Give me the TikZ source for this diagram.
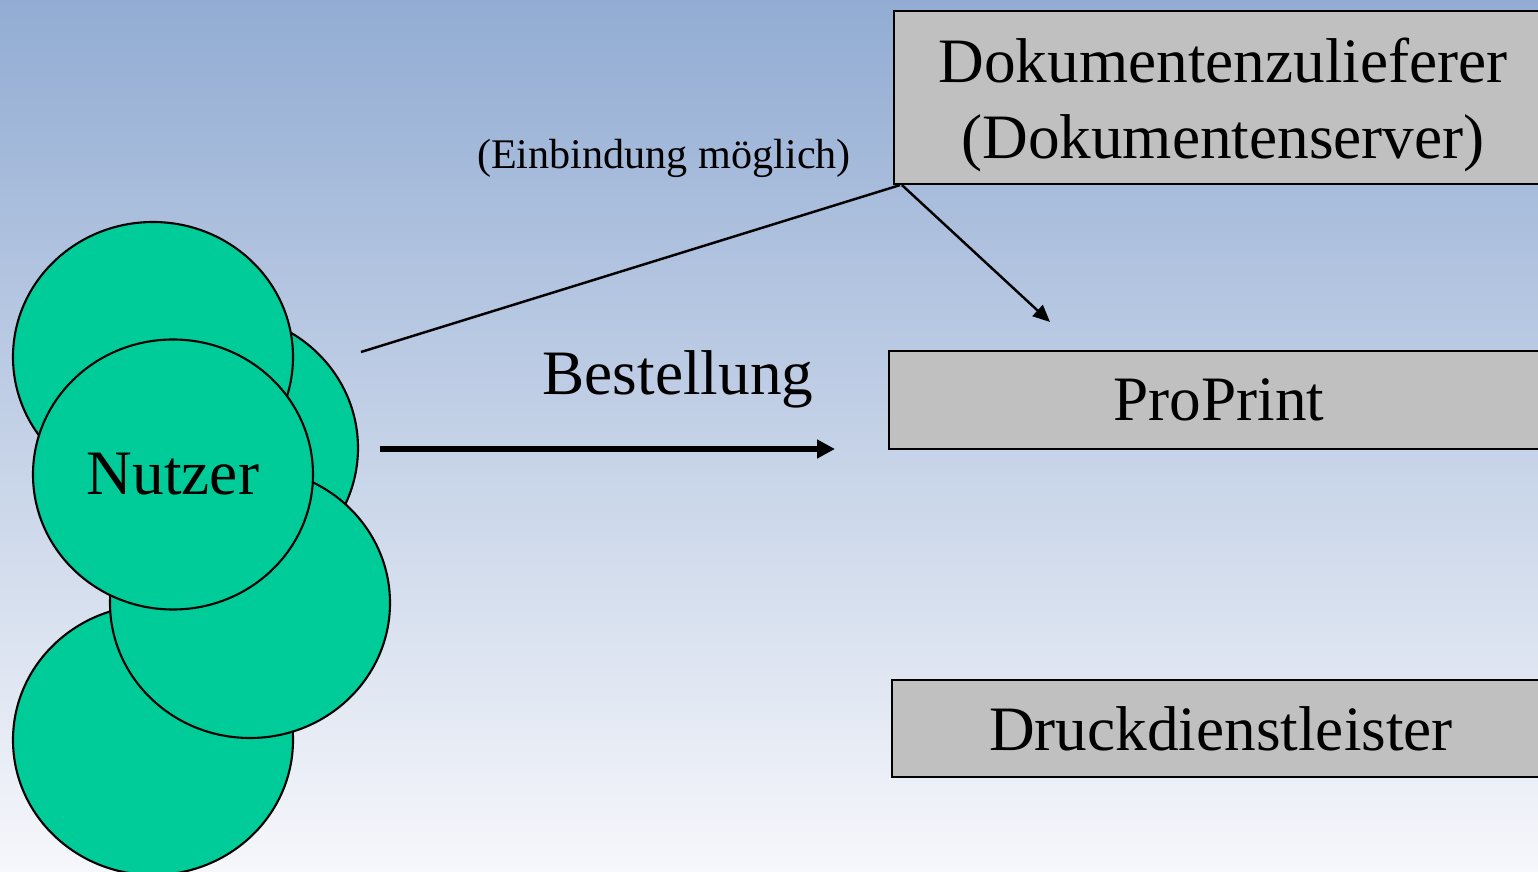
\documentclass[tikz,border=0pt]{standalone}
\usepackage{fontspec}
\setmainfont{Liberation Serif}
\usetikzlibrary{arrows.meta,shapes.geometric}
\definecolor{nutzergruen}{RGB}{0,204,153}
\definecolor{kastengrau}{RGB}{192,192,192}
\definecolor{himmeloben}{RGB}{146,172,211}
\definecolor{himmelmitte}{RGB}{203,213,231}
\definecolor{himmelunten}{RGB}{246,247,251}
\tikzset{
	kreis/.style={ellipse,draw=black,line width=0.6pt,fill=nutzergruen,minimum width=2.8cm,minimum height=2.7cm,inner sep=0pt},
	kasten/.style={rectangle,draw=black,line width=0.6pt,fill=kastengrau,anchor=north west,inner sep=0pt,font=\fontsize{18}{21.6}\selectfont},
	linie/.style={line width=0.7pt},
	pfeil/.style={line width=0.7pt,-{Triangle[length=0.17cm,width=0.15cm]}},
	dickpfeil/.style={line width=1.5pt,-{Triangle[length=0.18cm,width=0.18cm]}}
}
\begin{document}
\begin{tikzpicture}[x=1cm,y=-1cm]
	\useasboundingbox (0,0) rectangle (15.38,8.72);
	\clip (0,0) rectangle (15.38,8.72);
	\shade[top color=himmeloben,middle color=himmelmitte,bottom color=himmelunten] (0,0) rectangle (15.38,8.72);
		% Nutzer
		\node[kreis] (k2) at (2.18,4.48) {};
		\node[kreis] (k1) at (1.53,3.57) {};
		\node[kreis] (k3) at (1.53,7.40) {};
		\node[kreis] (k4) at (2.50,6.03) {};
		\node[kreis,font=\fontsize{18}{21.6}\selectfont] (nutzer) at (1.73,4.745) {Nutzer};
		% Kaesten
		\node[kasten,minimum width=6.58cm,minimum height=1.73cm] (doku) at (8.93,0.10) {};
		\node[font=\fontsize{18}{21.6}\selectfont,align=center] (dokutext) at ([yshift=-0.07cm]doku.center) {Dokumentenzulieferer\\(Dokumentenserver)};
		\node[kasten,minimum width=6.60cm,minimum height=0.98cm] (proprint) at (8.88,3.50) {ProPrint};
		\node[kasten,minimum width=6.58cm,minimum height=0.97cm] (druck) at (8.91,6.79) {Druckdienstleister};
	\coordinate (linienstart) at (3.61,3.52);
	\coordinate (pfeilziel) at (10.50,3.22);
	\coordinate (bestellstart) at (3.80,4.49);
	\coordinate (bestellziel) at (8.35,4.49);
		\draw[linie] (linienstart) -- ([xshift=0.07cm]doku.south west);
		\draw[pfeil] ([xshift=0.09cm]doku.south west) -- (pfeilziel);
		\draw[dickpfeil] (bestellstart) -- (bestellziel);
	\node[font=\fontsize{18}{21.6}\selectfont] (bestellung) at (6.78,3.79) {Bestellung};
	\node[font=\fontsize{12}{14}\selectfont] (einbindung) at (6.64,1.58) {(Einbindung möglich)};
\end{tikzpicture}
\end{document}
